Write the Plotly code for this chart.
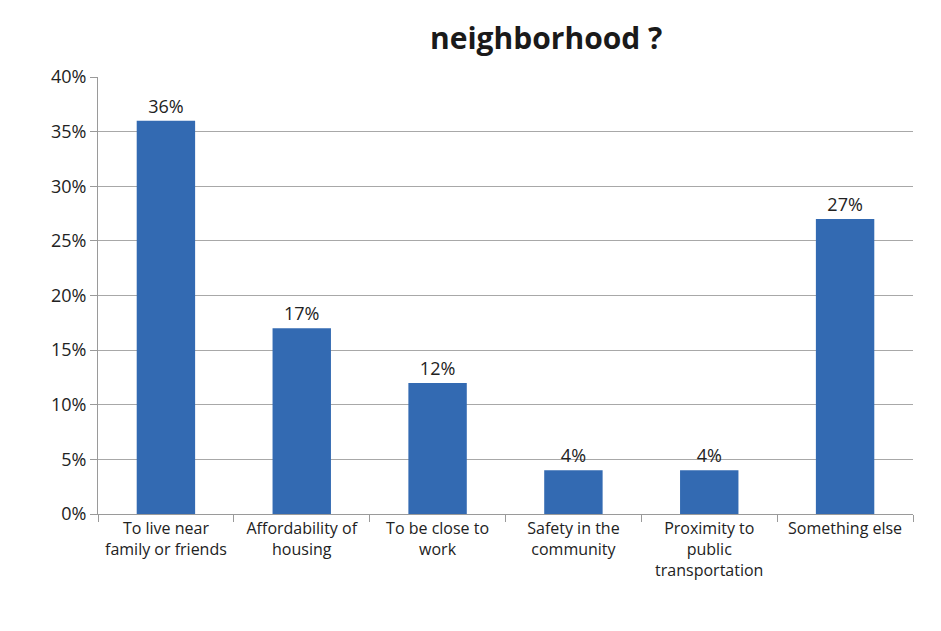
import plotly.graph_objects as go

categories = [
    "To live near<br>family or friends",
    "Affordability of<br>housing",
    "To be close to<br>work",
    "Safety in the<br>community",
    "Proximity to<br>public<br>transportation",
    "Something else",
]
values = [0.36, 0.17, 0.12, 0.04, 0.04, 0.27]
tick_vals = [0, 0.05, 0.10, 0.15, 0.20, 0.25, 0.30, 0.35, 0.40]
tick_text = ["0%", "5%", "10%", "15%", "20%", "25%", "30%", "35%", "40%"]
title_text = "neighborhood ?"

font_family = "Open Sans, Liberation Sans, sans-serif"

fig = go.Figure()
fig.add_trace(go.Bar(
    x=categories,
    y=values,
    marker=dict(color="#336ab2", line=dict(width=0)),
    texttemplate="%{y:.0%}",
    textposition="outside",
    textfont=dict(size=18, color="#222222", family=font_family),
    cliponaxis=False,
))

fig.update_layout(
    width=941,
    height=631,
    paper_bgcolor="white",
    plot_bgcolor="white",
    margin=dict(l=90, r=36, t=69, b=125),
    bargap=0.57,
    showlegend=False,
    font=dict(family=font_family, color="#222222", size=16),
    xaxis=dict(
        showline=True,
        linecolor="#9a9a9a",
        linewidth=1,
        ticks="outside",
        tickson="boundaries",
        ticklen=7,
        tickcolor="#9a9a9a",
        tickangle=0,
        tickfont=dict(size=16, color="#222222"),
        showgrid=False,
    ),
    yaxis=dict(
        range=[0, 0.40],
        tickvals=tick_vals,
        ticktext=tick_text,
        showline=True,
        linecolor="#9a9a9a",
        linewidth=1,
        ticks="outside",
        ticklen=7,
        tickcolor="#9a9a9a",
        showgrid=True,
        gridcolor="#a8a8a8",
        gridwidth=1,
        zeroline=False,
        tickfont=dict(size=18, color="#222222"),
    ),
    annotations=[dict(
        text="<b>" + title_text + "</b>",
        xref="paper", yref="paper",
        x=0.55, y=1.0, yshift=40,
        xanchor="center", yanchor="middle",
        showarrow=False,
        font=dict(size=30, color="#1a1a1a", family=font_family),
    )],
)

fig.write_html("out.html")
